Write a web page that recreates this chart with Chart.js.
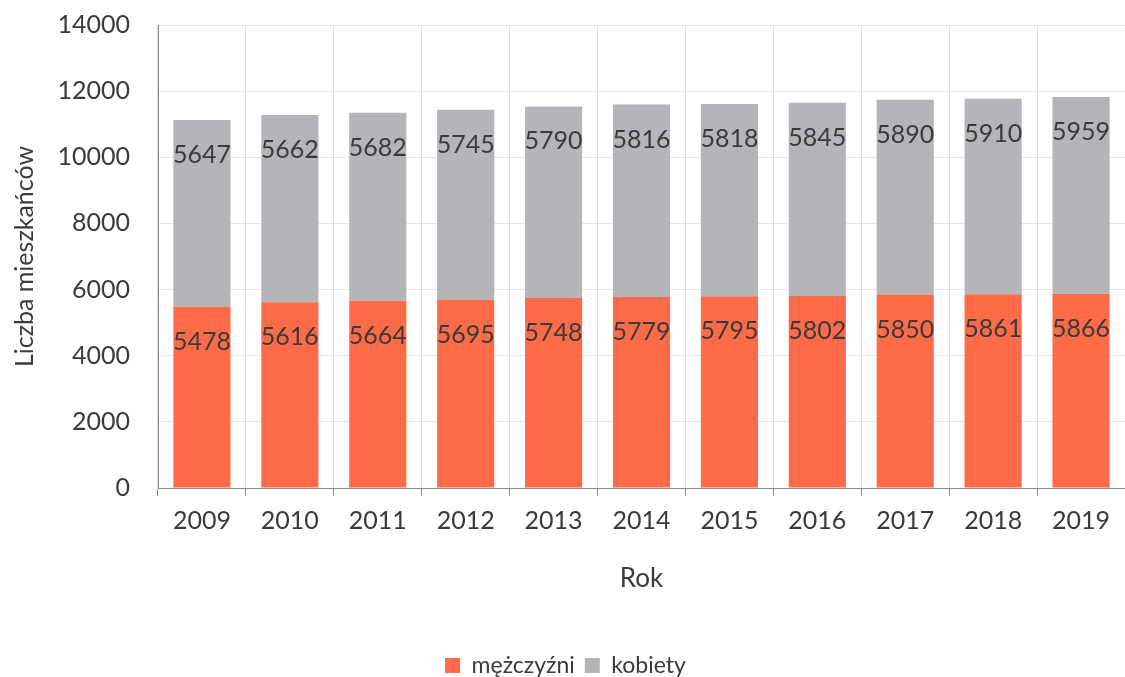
<!DOCTYPE html>
<html>
<head>
<meta charset="utf-8">
<script src="https://cdn.jsdelivr.net/npm/chart.js@4/dist/chart.umd.min.js"></script>
<style>
  html, body { margin: 0; padding: 0; background: #fff; }
  #wrap { width: 1125px; height: 677px; }
</style>
</head>
<body>
<div id="wrap"><canvas id="chart"></canvas></div>
<script>
// Population by sex, 2009–2019
const years = ['2009', '2010', '2011', '2012', '2013', '2014', '2015', '2016', '2017', '2018', '2019'];
const men   = [5478, 5616, 5664, 5695, 5748, 5779, 5795, 5802, 5850, 5861, 5866];
const women = [5647, 5662, 5682, 5745, 5790, 5816, 5818, 5845, 5890, 5910, 5959];
const yTicks = [0, 2000, 4000, 6000, 8000, 10000, 12000, 14000];

const FONT = 'Lato, "Open Sans", sans-serif';
const colors = { men: '#fd6b48', women: '#b5b5b9', text: '#3a3a3a', grid: '#dcdcdc', axis: '#8a8a8a' };

// draws the value of each segment a little below its top edge
const segmentLabels = {
  id: 'segmentLabels',
  afterDatasetsDraw(chart) {
    const ctx = chart.ctx;
    ctx.save();
    ctx.font = `25px ${FONT}`;
    ctx.fillStyle = colors.text;
    ctx.textAlign = 'center';
    ctx.textBaseline = 'middle';
    chart.data.datasets.forEach((ds, di) => {
      chart.getDatasetMeta(di).data.forEach((bar, i) => {
        ctx.fillText(String(ds.data[i]), bar.x, bar.y + 35);
      });
    });
    ctx.restore();
  },
};

new Chart(document.getElementById('chart'), {
  type: 'bar',
  data: {
    labels: years,
    datasets: [
      { label: 'mężczyźni', data: men, backgroundColor: colors.men },
      { label: 'kobiety', data: women, backgroundColor: colors.women },
    ],
  },
  options: {
    responsive: true,
    maintainAspectRatio: false,
    animation: false,
    layout: { padding: { top: 25, right: 0, left: 6, bottom: -10 } },
    datasets: { bar: { categoryPercentage: 1, barPercentage: 0.65 } },
    plugins: {
      legend: {
        position: 'bottom',
        labels: { font: { family: FONT, size: 23 }, color: colors.text, boxWidth: 15, boxHeight: 15, padding: 10 },
      },
      tooltip: { enabled: false },
    },
    scales: {
      x: {
        stacked: true,
        afterFit: (s) => { s.height = 156; },
        grid: { color: colors.grid, offset: true, tickLength: 8, tickColor: colors.axis },
        border: { color: colors.axis },
        ticks: { font: { family: FONT, size: 25 }, color: colors.text, padding: 10 },
        title: { display: true, text: 'Rok', font: { family: FONT, size: 26 }, color: colors.text, padding: { top: 4, bottom: 50 } },
      },
      y: {
        stacked: true,
        min: 0,
        max: 14000,
        afterFit: (s) => { s.width = 152; s.paddingTop = 0; s.paddingBottom = 0; },
        afterBuildTicks: (s) => { s.ticks = yTicks.map((v) => ({ value: v })); },
        grid: { color: '#e6e6e6', drawTicks: false },
        border: { color: colors.axis },
        ticks: { font: { family: FONT, size: 25 }, color: colors.text, padding: 28, callback: (v) => String(v) },
        title: { display: true, text: 'Liczba mieszkańców', font: { family: FONT, size: 25 }, color: colors.text, padding: { bottom: 0 } },
      },
    },
  },
  plugins: [segmentLabels],
});
</script>
</body>
</html>
